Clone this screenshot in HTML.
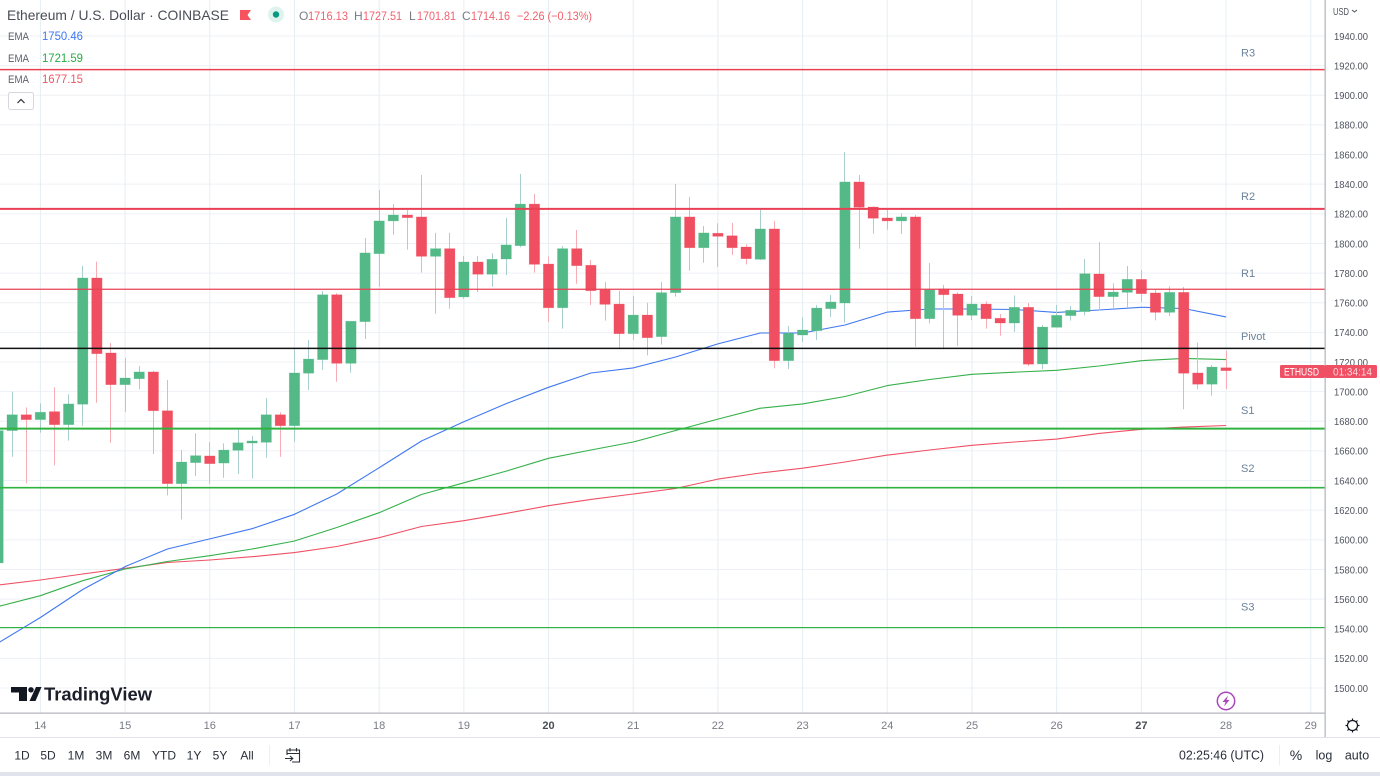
<!DOCTYPE html>
<html lang="en">
<head>
<meta charset="utf-8">
<title>Ethereum / U.S. Dollar chart</title>
<style>
html,body{margin:0;padding:0;background:#fff;width:1380px;height:776px;overflow:hidden}
svg{display:block;font-family:"Liberation Sans",sans-serif}
text{white-space:pre}
</style>
</head>
<body>
<svg id="chart" xmlns="http://www.w3.org/2000/svg" width="1380" height="776" viewBox="0 0 1380 776">
  <defs><clipPath id="pane"><rect x="0" y="0" width="1325" height="713"/></clipPath></defs>
  <rect x="0" y="0" width="1380" height="776" fill="#ffffff"/>
  <g id="grid" clip-path="url(#pane)"></g>
  <g id="emas" clip-path="url(#pane)"></g>
  <g id="candles" clip-path="url(#pane)"></g>
  <g id="pivots" clip-path="url(#pane)"></g>
  <g id="pivotLabels"></g>

  <rect x="0" y="772" width="1380" height="4" fill="#e0e3eb"/>
  <rect x="1324.5" y="0" width="1.3" height="737" fill="#b5b8c0"/>
  <rect x="0" y="712.5" width="1325" height="1.3" fill="#b5b8c0"/>
  <rect x="0" y="737" width="1380" height="1" fill="#e0e3eb"/>
  <g id="priceAxis"></g>
  <g id="timeAxis"></g>

  <g>
    <text x="7" y="20" font-size="14" fill="#4a4d57" textLength="222" lengthAdjust="spacingAndGlyphs">Ethereum / U.S. Dollar · COINBASE</text>
    <path d="M240 10H251L247.5 15L251 20H240Z" fill="#f7525f"/>
    <circle cx="276" cy="14.500" r="8" fill="#dff3ee"/>
    <circle cx="276" cy="14.500" r="3.200" fill="#089981"/>
    <text x="299" y="20" font-size="12" fill="#787b86">O</text>
    <text x="308" y="20" font-size="12" fill="#f0616d" textLength="40" lengthAdjust="spacingAndGlyphs">1716.13</text>
    <text x="354" y="20" font-size="12" fill="#787b86">H</text>
    <text x="363" y="20" font-size="12" fill="#f0616d" textLength="39" lengthAdjust="spacingAndGlyphs">1727.51</text>
    <text x="409" y="20" font-size="12" fill="#787b86">L</text>
    <text x="417" y="20" font-size="12" fill="#f0616d" textLength="39" lengthAdjust="spacingAndGlyphs">1701.81</text>
    <text x="462" y="20" font-size="12" fill="#787b86">C</text>
    <text x="471" y="20" font-size="12" fill="#f0616d" textLength="39" lengthAdjust="spacingAndGlyphs">1714.16</text>
    <text x="517" y="20" font-size="12" fill="#f0616d" textLength="75" lengthAdjust="spacingAndGlyphs">−2.26 (−0.13%)</text>

    <text x="8" y="40" font-size="11" fill="#5b5e69" textLength="21" lengthAdjust="spacingAndGlyphs">EMA</text>
    <text x="42" y="40" font-size="12" fill="#3d78f5" textLength="41" lengthAdjust="spacingAndGlyphs">1750.46</text>
    <text x="8" y="62" font-size="11" fill="#5b5e69" textLength="21" lengthAdjust="spacingAndGlyphs">EMA</text>
    <text x="42" y="62" font-size="12" fill="#25ad45" textLength="41" lengthAdjust="spacingAndGlyphs">1721.59</text>
    <text x="8" y="83" font-size="11" fill="#5b5e69" textLength="21" lengthAdjust="spacingAndGlyphs">EMA</text>
    <text x="42" y="83" font-size="12" fill="#ef5565" textLength="41" lengthAdjust="spacingAndGlyphs">1677.15</text>

    <rect x="8.500" y="92.500" width="25" height="17" rx="2" fill="#ffffff" stroke="#d6d8de"/>
    <path d="M17.500 103L21 99.500L24.500 103" fill="none" stroke="#2a2e39" stroke-width="1.200"/>
  </g>

  <g>
    <path d="M11 687H27V701H19V692.500H11Z M36 687H41.500L35.500 701H29.500Z" fill="#131722"/>
    <circle cx="31" cy="689.800" r="2.700" fill="#131722"/>
    <text x="44" y="700.500" font-size="18" font-weight="bold" fill="#1b1f2a" textLength="108" lengthAdjust="spacingAndGlyphs">TradingView</text>
  </g>

  <g>
    <circle cx="1226" cy="701" r="8.700" fill="#ffffff" stroke="#ab47bc" stroke-width="1.500"/>
    <path d="M1228 695.500L1222.500 702H1225.500L1224 706.500L1229.500 700H1226.500Z" fill="#ab47bc"/>
  </g>

  <g>
    <rect x="1280" y="365" width="45" height="13" rx="1.500" fill="#ef5064"/>
    <rect x="1325" y="365" width="52" height="13" rx="1.500" fill="#ef5064"/>
    <text x="1284" y="375.500" font-size="11" fill="#ffffff" textLength="35" lengthAdjust="spacingAndGlyphs">ETHUSD</text>
    <text x="1333" y="375.500" font-size="11" fill="#fbd3d8" textLength="39" lengthAdjust="spacingAndGlyphs">01:34:14</text>
  </g>

  <g>
    <text x="1333" y="15" font-size="10" fill="#50535e" textLength="16" lengthAdjust="spacingAndGlyphs">USD</text>
    <path d="M1352 10L1354.500 12L1357 10" fill="none" stroke="#50535e" stroke-width="1"/>
  </g>

  <g>
    <circle cx="1352.500" cy="725.500" r="5" fill="none" stroke="#131722" stroke-width="1.200"/>
    <path d="M1352.500 718.500V720.500M1352.500 730.500V732.500M1345.500 725.500H1347.500M1357.500 725.500H1359.500M1347.500 720.500L1349 722M1356 729L1357.500 730.500M1357.500 720.500L1356 722M1349 729L1347.500 730.500" stroke="#131722" stroke-width="1.200"/>
  </g>

  <g font-size="12" fill="#2a2e39" text-anchor="middle">
    <text x="22" y="759.500">1D</text>
    <text x="48" y="759.500">5D</text>
    <text x="76" y="759.500">1M</text>
    <text x="104" y="759.500">3M</text>
    <text x="132" y="759.500">6M</text>
    <text x="164" y="759.500">YTD</text>
    <text x="194" y="759.500">1Y</text>
    <text x="220" y="759.500">5Y</text>
    <text x="247" y="759.500">All</text>
  </g>
  <rect x="269" y="745" width="1" height="20" fill="#eceef2"/>
  <g fill="none" stroke="#2a2e39" stroke-width="1.100">
    <path d="M287 755V750H299.500V762H292M290 748V751.500M296.500 748V751.500M287 753.500H299.500"/>
    <path d="M285 758.500H292.500M290 756L292.800 758.500L290 761"/>
  </g>
  <g fill="#2a2e39">
    <text x="1179" y="759.500" font-size="12.500" textLength="85" lengthAdjust="spacingAndGlyphs">02:25:46 (UTC)</text>
    <rect x="1279" y="745" width="1" height="20" fill="#eceef2"/>
    <text x="1296" y="760" font-size="14" text-anchor="middle">%</text>
    <text x="1324" y="759.500" font-size="12.500" text-anchor="middle">log</text>
    <text x="1357" y="759.500" font-size="12.500" text-anchor="middle">auto</text>
  </g>
</svg>
<script>
const priceTicks = [1940,1920,1900,1880,1860,1840,1820,1800,1780,1760,1740,1720,1700,1680,1660,1640,1620,1600,1580,1560,1540,1520,1500];
const dayLabels = ["14","15","16","17","18","19","20","21","22","23","24","25","26","27","28","29"];
const boldDays = ["20","27"];
const barsPerDay = 6;
const firstBar = -3;
const opens = [1584.4,1673.7,1684.4,1681.1,1686.5,1677.7,1691.5,1776.7,1726.1,1704.7,1708.7,1713.3,1687.1,1637.9,1652.1,1656.6,1651.8,1660.4,1665.3,1665.8,1684.4,1677,1712.4,1721.6,1765.4,1719.1,1747.2,1793.1,1815.2,1819.2,1817.9,1791.3,1796.5,1763.9,1787.5,1779.2,1789.5,1798.5,1826.6,1786.1,1756.6,1796.5,1785.3,1768.8,1759.1,1739.1,1751.7,1737.1,1766.8,1817.9,1797.1,1806.9,1805.2,1797.6,1789.3,1809.8,1720.9,1738.2,1741.1,1756,1759.8,1841.5,1824.6,1817.2,1815.2,1817.9,1749.2,1769.3,1765.9,1751.5,1759.1,1749.5,1746.3,1756.9,1718.7,1743.4,1751.3,1754,1779.4,1764.1,1767,1775.8,1766.6,1753.5,1767,1712.6,1705,1716.13];
const highs = [1674.5,1700,1689.4,1692.1,1702.9,1698.2,1784.8,1787.7,1732.8,1722.7,1717.3,1714.1,1707.9,1660.6,1671.9,1666,1665.1,1674.6,1670.1,1695.7,1686.1,1728.6,1734.9,1767.9,1766.4,1747.5,1803.7,1836.1,1826.6,1822.6,1846.2,1807.1,1807.1,1791.5,1791.5,1793.4,1817.2,1846.9,1833.4,1791.1,1798.3,1809.1,1788.8,1774,1767.9,1764.5,1760,1774,1840.1,1831.4,1811.8,1813.6,1813.8,1799.4,1822.6,1815.2,1744.3,1750.2,1758.5,1765.2,1861.7,1846.2,1825,1822.6,1820.4,1819.2,1786.8,1772,1767,1764.5,1761,1752.4,1765,1759.8,1745,1758.5,1757.8,1789.5,1801,1773.1,1784.8,1782.1,1768.6,1771.1,1770.6,1733,1718,1727.51];
const lows = [1584,1656.1,1638.1,1672.3,1650.3,1666.9,1677,1692.5,1665.5,1686.3,1701.6,1657.9,1630,1613.8,1643.1,1637.7,1641.9,1644.4,1641.5,1655.4,1656.1,1666.2,1701.1,1714.6,1706.7,1712.8,1735.5,1770.8,1805.9,1795.8,1780.3,1752.6,1756,1762.7,1767.2,1770.8,1778.7,1797.4,1780.3,1747.2,1742.5,1772.8,1758.5,1747.9,1729.5,1734.9,1724.5,1731.7,1764.1,1781.6,1787,1784.1,1792.2,1785.9,1788.8,1715.8,1715.3,1733.5,1734.9,1750.4,1746.5,1796.5,1806.6,1809.3,1806.4,1730.3,1746.1,1728.6,1730.8,1748.3,1742.5,1737.8,1740.3,1717.3,1715.3,1743.4,1747.9,1751.5,1754.6,1756.4,1756.4,1760.5,1748.1,1751,1688.1,1701.8,1697.3,1701.81];
const closes = [1673.7,1684.4,1681.1,1686.1,1677.7,1691.7,1776.7,1725.6,1704.7,1709.2,1713.3,1687.1,1637.9,1652.5,1656.8,1651.4,1660.6,1665.5,1666.7,1684.4,1677,1712.6,1722,1765.4,1719.1,1747.5,1793.6,1815.2,1819.2,1817.4,1791.3,1796.5,1763.4,1787.5,1779.2,1789.3,1799,1826.6,1785.9,1756.6,1796.5,1785,1768.1,1758.9,1739.1,1751.7,1736.4,1766.8,1817.9,1797.1,1807.1,1804.8,1797.1,1789.7,1809.8,1720.9,1739.4,1741.6,1756.4,1760.5,1841.5,1824.4,1817,1815.2,1817.9,1749.2,1768.8,1765.4,1751.5,1759.1,1749.2,1746.3,1756.9,1718.5,1743.6,1751.5,1754.9,1779.6,1764.1,1767.2,1775.8,1766.1,1753.5,1767,1712.4,1705,1716.6,1714.16];
const emaBars = [-3,0,3,6,9,12,15,18,21,24,27,30,33,36,39,42,45,48,51,54,57,60,63,66,69,72,75,78,81,84];
const emaBlue = [1530.4,1547.6,1566.5,1581.9,1593.8,1600.6,1607.5,1617.2,1630.9,1648.7,1666.7,1679.7,1691.9,1702.9,1712.6,1716,1723.4,1732.2,1739.6,1739.6,1745,1753.7,1755.8,1755.8,1755.4,1753.5,1755.1,1756.9,1756.1,1750.46];
const emaGreen = [1555,1562.3,1572.4,1580.3,1585.4,1589.3,1593.8,1599.2,1608.3,1618.3,1630.6,1638.5,1646.4,1655,1660.6,1666,1673.8,1681.5,1688.8,1691.7,1696.7,1704.1,1708.2,1711.7,1713.1,1714.4,1717.3,1720.9,1722.4,1721.59];
const emaRed = [1569.5,1572.9,1576.9,1580.8,1584.7,1586.4,1588.6,1591.4,1595.5,1601.4,1609,1612.9,1617.8,1623,1627.3,1630.9,1634.6,1641,1645.1,1648.3,1652.5,1657.2,1660.6,1663.8,1666,1668,1671.8,1674.6,1676.1,1677.15];
const pivotNames = ["R3","R2","R1","Pivot","S1","S2","S3"];
const pivotLevels = [1917.3,1823.3,1769.1,1729.2,1675,1635.2,1540.8];
const pivotLabelPrices = [1928.8,1832,1780,1737.5,1687.5,1648.5,1555];

const NS = 'http://www.w3.org/2000/svg';
function yScale(price){ return 36 + (1940 - price) * 652 / 440; }
function xScale(bar){ return 40.4 + 14.115 * bar; }
function make(tag, parent, attrs){
  const el = document.createElementNS(NS, tag);
  for (const k in attrs) el.setAttribute(k, attrs[k]);
  parent.appendChild(el);
  return el;
}

const gridG = document.getElementById('grid');
const priceG = document.getElementById('priceAxis');
priceTicks.forEach(function(p){
  const y = yScale(p);
  const line = make('line', gridG, {x1:0, x2:1325, y1:y, y2:y, stroke:'#edf1f5', 'stroke-width':1});
  
  
  const t = make('text', priceG, {x:1334, y:y+3.8, 'font-size':10.5, fill:'#50535e', textLength:34, lengthAdjust:'spacingAndGlyphs'});
  t.textContent = p.toFixed(2);
  
  
});

const timeG = document.getElementById('timeAxis');
dayLabels.forEach(function(d, i){
  const x = xScale(i * barsPerDay);
  const line = make('line', gridG, {x1:x, x2:x, y1:0, y2:713, stroke:'#e6eef2', 'stroke-width':1});
  
  
  const bold = boldDays.indexOf(d) >= 0;
  const t = make('text', timeG, {x:x, y:729, 'font-size':11, 'text-anchor':'middle', fill: bold ? '#4a4d57' : '#787b86', 'font-weight': bold ? 'bold' : 'normal'});
  t.textContent = d;
  
  
});

const emaG = document.getElementById('emas');
function drawEma(values, color, name){
  const pts = values.map(function(v, i){ return xScale(emaBars[i]).toFixed(1) + ',' + yScale(v).toFixed(1); }).join(' ');
  const line = make('polyline', emaG, {points:pts, fill:'none', stroke:color, 'stroke-width':1.1, 'stroke-linejoin':'round'});
  
  
}
drawEma(emaRed, '#ef5064', 'ema-red-line');
drawEma(emaGreen, '#35b04a', 'ema-green-line');
drawEma(emaBlue, '#3f78f2', 'ema-blue-line');

const candleG = document.getElementById('candles');
opens.forEach(function(o, i){
  const h = highs[i], l = lows[i], c = closes[i];
  const x = xScale(firstBar + i);
  const up = c >= o;
  const wx = Math.round(x - 0.5) + 0.5;
  const wick = make('line', candleG, {x1:wx, x2:wx, y1:yScale(h), y2:yScale(l), stroke: up ? '#a9ced0' : '#f6adb6', 'stroke-width':1});
  
  
  const top = yScale(Math.max(o, c)), bot = yScale(Math.min(o, c));
  const body = make('rect', candleG, {x:x-5.2, y:top, width:10.4, height:Math.max(bot-top, 1.5), fill: up ? '#53b987' : '#ef4f60', stroke: up ? '#53b987' : '#ef4f60', 'stroke-opacity':0.35, 'stroke-width':0.7});
  
  
});

const pivotG = document.getElementById('pivots');
const pivotLabelG = document.getElementById('pivotLabels');
const pivotColor = {R:'#ea4054', P:'#111111', S:'#2fb23f'};
const pivotWidth = {R3:1.5, R2:2, R1:1.2, Pivot:1.4, S1:2, S2:1.6, S3:1.2};
pivotNames.forEach(function(n, i){
  const y = yScale(pivotLevels[i]);
  const line = make('line', pivotG, {x1:0, x2:1325, y1:y, y2:y, stroke:pivotColor[n[0]], 'stroke-width':pivotWidth[n]});
  
  
  const t = make('text', pivotLabelG, {x:1241, y:yScale(pivotLabelPrices[i])+4, 'font-size':11, fill:'#6b8299'});
  t.textContent = n;
  
  
});
</script>
</body>
</html>
